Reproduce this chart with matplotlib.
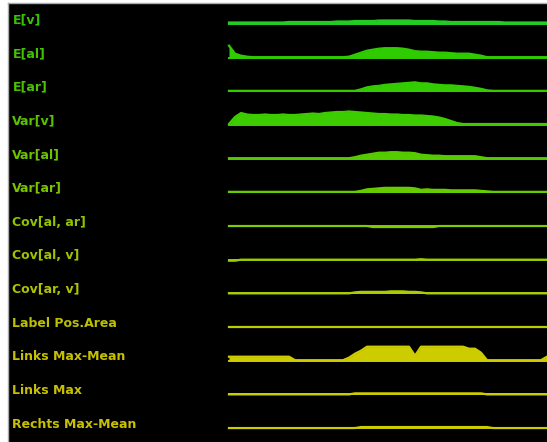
import numpy as np
import matplotlib.pyplot as plt

# row labels, top to bottom
labels = ['E[v]', 'E[al]', 'E[ar]', 'Var[v]', 'Var[al]', 'Var[ar]',
          'Cov[al, ar]', 'Cov[al, v]', 'Cov[ar, v]', 'Label Pos.Area',
          'Links Max-Mean', 'Links Max', 'Rechts Max-Mean']

# trace heights per frame (54 frames)
e_v = [1.5, 1.5, 1.5, 1.5, 1.5, 1.5, 1.5, 1.5, 1.5, 1.5, 2, 2, 2, 2, 2, 2, 2, 2,
       2.5, 2.5, 2.5, 3, 3, 3, 3, 3.5, 3.5, 3.5, 3.5, 3.5, 3.5, 3, 3, 3, 3, 2.5,
       2.5, 2, 2, 2, 2, 2, 2, 2, 2, 2, 1.5, 1.5, 1.5, 1.5, 1.5, 1.5, 1.5, 1.5]
e_al = [12, 4, 2, 1, 0.5, 0.5, 0.5, 0.5, 0.5, 0.5, 0.5, 0.5, 0.5, 0.5, 0.5, 0.5,
        0.5, 0.5, 0.5, 0.5, 1, 3, 5, 7, 8, 9, 9.5, 9.5, 9.5, 9, 8, 6.5, 6, 6,
        5.5, 5, 5, 4.5, 4, 4, 4, 3, 2, 0.5, 0.5, 0.5, 0.5, 0.5, 0.5, 0.5, 0.5,
        0.5, 0.5, 0.5]
e_ar = [0.5, 0.5, 0.5, 0.5, 0.5, 0.5, 0.5, 0.5, 0.5, 0.5, 0.5, 0.5, 0.5, 0.5,
        0.5, 0.5, 0.5, 0.5, 0.5, 0.5, 0.5, 0.5, 2, 4, 5, 5.5, 6.5, 7, 7.5, 8,
        8.5, 9, 8, 8, 7, 6.5, 6, 6, 5.5, 5, 4.5, 3.5, 2.5, 1, 0.5, 0.5, 0.5, 0.5,
        0.5, 0.5, 0.5, 0.5, 0.5, 0.5]
var_v = [1, 8, 12, 10.5, 10, 10, 10.5, 10, 10, 10.5, 10, 10, 10.5, 11, 11.5,
         11, 12, 12.5, 13, 13, 13.5, 13, 12.5, 12, 11.5, 11, 11, 10.5, 10.5, 10,
         10, 9.5, 9.5, 9, 8.5, 7.5, 6, 4, 2, 1, 1, 1, 1, 1, 1, 1, 1, 1, 1, 1, 1,
         1, 1, 1]
var_al = [0.5, 0.5, 0.5, 0.5, 0.5, 0.5, 0.5, 0.5, 0.5, 0.5, 0.5, 0.5, 0.5, 0.5,
          0.5, 0.5, 0.5, 0.5, 0.5, 0.5, 0.5, 1.5, 3, 4, 5, 6, 6, 6.5, 6.5, 6, 6,
          5.5, 4, 3.5, 3, 3, 2.5, 2.5, 2.5, 2.5, 2.5, 2.5, 1.5, 0.5, 0.5, 0.5,
          0.5, 0.5, 0.5, 0.5, 0.5, 0.5, 0.5, 0.5]
var_ar = [0.5, 0.5, 0.5, 0.5, 0.5, 0.5, 0.5, 0.5, 0.5, 0.5, 0.5, 0.5, 0.5, 0.5,
          0.5, 0.5, 0.5, 0.5, 0.5, 0.5, 0.5, 0.5, 1.5, 3, 3.5, 4, 4.5, 4.5, 4.5,
          4.5, 4.5, 4, 2.5, 3, 2.5, 2.5, 2.5, 2, 2, 2, 2, 2, 1.5, 1, 0.5, 0.5,
          0.5, 0.5, 0.5, 0.5, 0.5, 0.5, 0.5, 0.5]
cov_al_ar = [0, 0, 0, 0, 0, 0, 0, 0, 0, 0, 0, 0, 0, 0, 0, 0, 0, 0, 0, 0, 0, 0,
             0, 0, -1, -1, -1, -1, -1, -1, -1, -1, -1, -1, -1, 0, 0, 0, 0, 0, 0,
             0, 0, 0, 0, 0, 0, 0, 0, 0, 0, 0, 0, 0]
cov_al_v = [-1, -1, 0, 0, 0, 0, 0, 0, 0, 0, 0, 0, 0, 0, 0, 0, 0, 0, 0, 0, 0, 0,
            0, 0, 0, 0, 0, 0, 0, 0, 0, 0, 0.5, 0, 0, 0, 0, 0, 0, 0, 0, 0, 0, 0,
            0, 0, 0, 0, 0, 0, 0, 0, 0, 0]
cov_ar_v = [0, 0, 0, 0, 0, 0, 0, 0, 0, 0, 0, 0, 0, 0, 0, 0, 0, 0, 0, 0, 0, 1,
            1.5, 1.5, 1.5, 1.5, 1.5, 2, 2, 2, 1.5, 1.5, 1, 0, 0, 0, 0, 0, 0, 0,
            0, 0, 0, 0, 0, 0, 0, 0, 0, 0, 0, 0, 0, 0]
label_area = [0, 0, 0, 0, 0, 0, 0, 0, 0, 0, 0, 0, 0, 0, 0, 0, 0, 0, 0, 0, 0, 0,
              0, 0, 0, 0, 0, 0, 0, 0, 0, 0, 0, 0, 0, 0, 0, 0, 0, 0, 0, 0, 0, 0,
              0, 0, 0, 0, 0, 0, 0, 0, 0, 0]
links_max_mean = [4, 4, 4, 4, 4, 4, 4, 4, 4, 4, 4, 0.5, 0.5, 0.5, 0.5, 0.5, 0.5,
                  0.5, 0.5, 0.5, 3, 7, 10, 14, 14, 14, 14, 14, 14, 14, 14, 5,
                  14, 14, 14, 14, 14, 14, 14, 14, 12, 12, 8, 0.5, 0.5, 0.5, 0.5,
                  0.5, 0.5, 0.5, 0.5, 0.5, 0.5, 4]
links_max = [0, 0, 0, 0, 0, 0, 0, 0, 0, 0, 0, 0, 0, 0, 0, 0, 0, 0, 0, 0, 0, 1,
             1, 1, 1, 1, 1, 1, 1, 1, 1, 1, 1, 1, 1, 1, 1, 1, 1, 1, 1, 1, 1, 0, 0,
             0, 0, 0, 0, 0, 0, 0, 0, 0]
rechts_max_mean = [0, 0, 0, 0, 0, 0, 0, 0, 0, 0, 0, 0, 0, 0, 0, 0, 0, 0, 0, 0,
                   0, 0, 1, 1, 1, 1, 1, 1, 1, 1, 1, 1, 1, 1, 1, 1, 1, 1, 1, 1, 1,
                   1, 1, 1, 0, 0, 0, 0, 0, 0, 0, 0, 0, 0]

series = [e_v, e_al, e_ar, var_v, var_al, var_ar, cov_al_ar, cov_al_v,
          cov_ar_v, label_area, links_max_mean, links_max, rechts_max_mean]

trace_colors = ['#22cc22', '#2ecc00', '#33cc00', '#3dcc00', '#55cc00',
                '#66cc00', '#80cc00', '#99cc00', '#aacc00', '#bbcc00',
                '#cccc00', '#cccc00', '#cccc00']
text_colors = ['#33c300', '#40c300', '#4ac300', '#58c300', '#6cc300',
               '#7ac300', '#90c300', '#a0c300', '#b0c300', '#bcc000',
               '#c6c000', '#c6c000', '#c8c000']

fig = plt.figure(figsize=(5.47, 4.42), dpi=100, facecolor='white')
ax = fig.add_axes([8 / 547, 0, 539 / 547, 439 / 442])
ax.set_facecolor('black')

frames = np.arange(len(e_v))
first_base = 24
row_step = 33.67

for k, (lab, vals) in enumerate(zip(labels, series)):
    base = first_base + k * row_step
    v = np.array(vals, dtype=float)
    ax.fill_between(frames, base, base - v, color=trace_colors[k], lw=0)
    ax.plot(frames, base - v, color=trace_colors[k], lw=1.6)
    ax.plot(frames, np.full(len(frames), base), color=trace_colors[k], lw=1.4)
    ax.text(-36.1, base - 4, lab, color=text_colors[k], fontsize=9,
            fontweight='bold', va='center', ha='left')

ax.set_xlim(-36.83, 53)
ax.set_ylim(442, 3)
ax.set_xticks([])
ax.set_yticks([])
for s in ['right', 'bottom']:
    ax.spines[s].set_visible(False)
for s in ['left', 'top']:
    ax.spines[s].set_color('#aaaaaa')
    ax.spines[s].set_linewidth(1)

fig.savefig('out.png', dpi=100, facecolor='white')
